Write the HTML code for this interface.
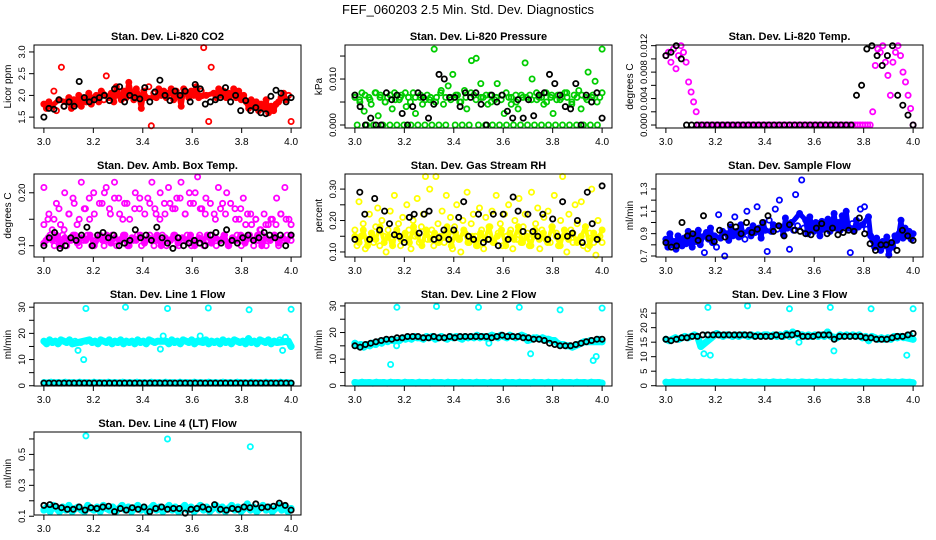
<!DOCTYPE html>
<html><head><meta charset="utf-8">
<style>
html,body{margin:0;padding:0;background:#fff;}
svg{display:block;font-family:"Liberation Sans",sans-serif;}
</style></head>
<body>
<svg id="chart" width="936" height="540" viewBox="0 0 936 540">
<rect x="0" y="0" width="936" height="540" fill="#fff"/>
<text x="468" y="14" text-anchor="middle" font-size="13">FEF_060203  2.5 Min. Std. Dev. Diagnostics</text>
</svg>
<script>
// ---- data ----
const xTicks = [3.0, 3.2, 3.4, 3.6, 3.8, 4.0];
const xTickLabels = ["3.0", "3.2", "3.4", "3.6", "3.8", "4.0"];

const co2Red = [1.80,1.70,1.85,1.75,2.10,1.65,1.90,2.65,1.75,1.85,1.95,1.70,1.90,1.80,2.00,1.75,1.95,1.85,2.05,1.80,1.95,2.00,1.85,2.10,1.90,2.45,1.95,2.05,1.85,2.20,2.00,1.90,2.10,1.95,2.30,2.05,1.90,2.15,2.00,1.70,2.10,1.95,2.20,1.30,2.05,1.95,2.15,2.00,2.10,1.95,2.05,2.15,1.90,2.10,2.00,1.75,2.15,2.05,1.95,2.10,2.00,2.20,1.95,2.10,3.10,2.00,1.40,2.65,2.05,1.95,2.15,2.00,2.10,1.95,2.05,2.00,2.15,1.95,2.10,1.90,2.00,1.85,1.70,1.90,1.75,1.85,1.65,1.80,1.70,1.90,1.60,1.75,1.65,1.80,1.85,1.95,2.05,1.90,2.00,1.40];
const co2Black = [1.50,1.70,1.68,1.90,1.75,1.85,1.75,2.32,1.95,1.85,1.90,1.95,2.00,1.88,2.15,2.20,1.85,2.00,1.95,1.92,2.18,1.85,2.08,2.35,2.00,1.88,2.10,2.00,2.10,1.85,2.25,2.15,1.80,1.85,1.90,1.95,2.18,1.85,2.00,1.65,1.88,1.65,1.72,1.60,1.58,1.98,2.12,2.05,1.85,1.95];

const presGreen = [0.0065,0.0,0.0055,0.007,0.003,0.0,0.006,0.0045,0.0,0.007,0.002,0.0065,0.0,0.005,0.006,0.0,0.0035,0.007,0.0,0.0055,0.0065,0.0,0.004,0.006,0.0,0.007,0.0025,0.0,0.006,0.0045,0.0,0.0065,0.0055,0.0,0.0165,0.006,0.0,0.0075,0.0045,0.0,0.0085,0.006,0.011,0.0,0.0065,0.005,0.0,0.0075,0.0035,0.0,0.014,0.0065,0.0145,0.0,0.009,0.006,0.0,0.0045,0.0065,0.0,0.0055,0.009,0.0,0.0065,0.0025,0.0,0.006,0.0045,0.0,0.0065,0.0035,0.0,0.006,0.0135,0.0,0.0065,0.010,0.0,0.0055,0.006,0.0,0.0045,0.007,0.0,0.006,0.0025,0.0,0.0065,0.0055,0.0,0.007,0.006,0.0,0.0045,0.0065,0.0,0.0075,0.0035,0.0,0.006,0.0115,0.0,0.0065,0.0095,0.0,0.006,0.0165];
const presGreenBand = [0.006,0.005,0.0065,0.0055,0.007,0.006,0.005,0.0065,0.0055,0.006,0.007,0.005,0.006,0.0065,0.0055,0.006,0.005,0.007,0.006,0.0055,0.0065,0.005,0.006,0.007,0.0055,0.006,0.0065,0.005,0.006,0.0055,0.007,0.006,0.005,0.0065,0.006,0.0055,0.007,0.006,0.005,0.0065,0.0055,0.006,0.007,0.005,0.006,0.0065,0.0055,0.006,0.005,0.007];
const presBlack = [0.0065,0.004,0.0,0.0015,0.0,0.0,0.007,0.0055,0.0065,0.0025,0.0,0.004,0.007,0.006,0.0015,0.0045,0.011,0.010,0.006,0.006,0.004,0.007,0.006,0.007,0.0045,0.0,0.0065,0.005,0.0065,0.003,0.0015,0.0055,0.0015,0.0055,0.002,0.0065,0.007,0.011,0.009,0.0065,0.004,0.0035,0.009,0.0,0.0065,0.005,0.007,0.0015];

const tempMagenta = [0.0105,0.011,0.0095,0.0115,0.0085,0.0105,0.012,0.011,0.0095,0.0065,0.005,0.0035,0.002,0,0,0,0,0,0,0,0,0,0,0,0,0,0,0,0,0,0,0,0,0,0,0,0,0,0,0,0,0,0,0,0,0,0,0,0,0,0,0,0,0,0,0,0,0,0,0,0,0,0,0,0,0,0,0,0,0,0,0,0,0,0,0,0,0,0,0,0,0,0.002,0.009,0.0115,0.011,0.012,0.0095,0.0075,0.0045,0.0095,0.011,0.012,0.0105,0.008,0.0065,0.0045,0.0025,0.0];
const tempBlack = [0.0105,0.011,0.012,0.010,0,0,0,0,0,0,0,0,0,0,0,0,0,0,0,0,0,0,0,0,0,0,0,0,0,0,0,0,0,0,0,0,0,0.0045,0.006,0.0115,0.012,0.0105,0.009,0.0105,0.012,0.0045,0.003,0.0015,0.0];

const ambMagenta = [0.21,0.11,0.15,0.12,0.13,0.10,0.18,0.11,0.14,0.12,0.20,0.10,0.16,0.11,0.19,0.12,0.14,0.10,0.22,0.11,0.17,0.12,0.15,0.10,0.20,0.11,0.24,0.12,0.18,0.10,0.21,0.11,0.16,0.12,0.22,0.10,0.19,0.11,0.15,0.12,0.18,0.10,0.24,0.11,0.20,0.12,0.17,0.10,0.25,0.11,0.19,0.12,0.22,0.10,0.16,0.11,0.20,0.12,0.18,0.10,0.21,0.11,0.17,0.12,0.19,0.10,0.22,0.11,0.16,0.12,0.20,0.10,0.18,0.11,0.23,0.12,0.17,0.10,0.19,0.11,0.24,0.12,0.16,0.10,0.21,0.11,0.18,0.12,0.20,0.10,0.25,0.11,0.17,0.12,0.15,0.10,0.19,0.11,0.16,0.12,0.14,0.10,0.15,0.11,0.13,0.12,0.16,0.10,0.14,0.11,0.15,0.12,0.19,0.10,0.16,0.11,0.21,0.12,0.15,0.11];
const ambMagentaMid = [0.14,0.16,0.15,0.17,0.13,0.16,0.18,0.15,0.17,0.19,0.16,0.18,0.20,0.17,0.19,0.16,0.18,0.15,0.17,0.19,0.16,0.18,0.17,0.15,0.16,0.18,0.17,0.19,0.16,0.18,0.20,0.17,0.16,0.18,0.15,0.17,0.16,0.18,0.15,0.17,0.14,0.16,0.15,0.13,0.14,0.15,0.14,0.16,0.15,0.14];
const ambMagentaLow = [0.105,0.115,0.11,0.12,0.10,0.115,0.11,0.12,0.105,0.115,0.11,0.12,0.10,0.115,0.11,0.12,0.105,0.115,0.11,0.12,0.10,0.115,0.11,0.12,0.105,0.115,0.11,0.12,0.10,0.115,0.11,0.12,0.105,0.115,0.11,0.12,0.10,0.115,0.11,0.12,0.105,0.115,0.11,0.12,0.10,0.115,0.11,0.12,0.105,0.115,0.11,0.12,0.10,0.115,0.11,0.12,0.105,0.115,0.11,0.12];
const ambBlack = [0.10,0.115,0.125,0.095,0.10,0.115,0.11,0.12,0.135,0.10,0.12,0.125,0.115,0.12,0.10,0.105,0.11,0.13,0.115,0.12,0.11,0.135,0.115,0.105,0.095,0.115,0.10,0.105,0.11,0.105,0.10,0.12,0.125,0.105,0.13,0.11,0.105,0.115,0.12,0.11,0.115,0.125,0.12,0.115,0.12,0.10,0.12];

const rhYellow = [0.17,0.12,0.26,0.15,0.19,0.11,0.14,0.22,0.16,0.13,0.18,0.24,0.12,0.20,0.15,0.10,0.17,0.23,0.13,0.28,0.16,0.19,0.12,0.21,0.14,0.25,0.17,0.11,0.20,0.15,0.27,0.13,0.18,0.22,0.34,0.14,0.30,0.17,0.12,0.34,0.19,0.15,0.23,0.13,0.28,0.16,0.21,0.11,0.18,0.25,0.14,0.10,0.20,0.16,0.29,0.13,0.19,0.22,0.15,0.12,0.24,0.17,0.11,0.21,0.14,0.18,0.23,0.13,0.28,0.16,0.19,0.12,0.22,0.15,0.25,0.17,0.11,0.20,0.14,0.27,0.13,0.18,0.22,0.16,0.12,0.29,0.15,0.19,0.24,0.11,0.17,0.21,0.14,0.23,0.13,0.18,0.28,0.16,0.12,0.20,0.34,0.15,0.10,0.22,0.17,0.13,0.25,0.19,0.14,0.26,0.12,0.18,0.11,0.16,0.30,0.13,0.09,0.20,0.15,0.13];
const rhYellowCore = [0.15,0.13,0.17,0.12,0.16,0.14,0.18,0.13,0.15,0.12,0.17,0.14,0.16,0.13,0.18,0.15,0.12,0.17,0.14,0.16,0.13,0.15,0.18,0.12,0.16,0.14,0.17,0.13,0.15,0.12,0.16,0.14,0.18,0.13,0.15,0.17,0.12,0.16,0.14,0.18,0.13,0.15,0.12,0.17,0.14,0.16,0.13,0.18,0.15,0.12,0.17,0.14,0.16,0.13,0.15,0.18,0.12,0.16,0.14,0.17];
const rhBlack = [0.14,0.29,0.22,0.14,0.27,0.17,0.23,0.19,0.155,0.15,0.13,0.21,0.22,0.16,0.22,0.23,0.14,0.145,0.17,0.14,0.17,0.21,0.26,0.15,0.14,0.22,0.13,0.14,0.22,0.12,0.22,0.14,0.275,0.23,0.165,0.22,0.165,0.15,0.22,0.14,0.205,0.15,0.26,0.15,0.16,0.20,0.13,0.29,0.19,0.14,0.31];

const flowBlue = [0.85,0.78,0.90,0.80,0.83,0.76,0.88,0.82,0.79,0.86,0.81,0.92,0.84,0.78,0.89,0.83,0.93,0.80,0.87,0.73,0.91,0.85,0.95,0.82,0.88,0.78,1.07,0.86,0.92,0.70,0.90,0.84,0.96,0.88,1.05,0.92,0.87,0.98,0.90,0.85,1.10,0.93,0.88,0.97,0.91,1.14,0.95,0.86,1.00,0.93,0.74,1.02,0.92,0.98,1.12,0.94,1.20,0.96,0.89,1.04,0.95,0.76,1.00,0.93,1.25,0.97,1.08,1.38,0.95,1.02,0.90,1.05,0.97,0.92,1.00,0.95,0.88,1.01,0.94,0.98,1.03,0.92,0.97,1.08,0.95,1.00,0.93,1.06,0.97,1.10,0.95,0.73,0.99,0.93,1.02,0.96,1.12,0.98,1.14,0.94,1.05,0.88,0.84,0.78,0.86,0.80,0.75,0.83,0.79,0.87,0.71,0.82,0.78,0.88,0.84,0.90,1.02,0.86,0.95,0.88,0.92,0.85,0.90];
const flowBlack = [0.82,0.78,0.79,1.00,0.88,0.90,0.84,1.06,0.86,0.83,0.93,0.87,0.98,0.96,0.90,1.00,0.91,0.94,1.00,1.06,0.92,0.97,0.88,0.98,0.93,0.92,0.90,0.89,0.95,0.99,0.90,0.95,0.89,0.91,0.93,0.92,1.04,0.90,0.81,0.75,0.80,0.80,0.82,0.75,0.93,0.88,0.84];

const outlierTimes = [3.17, 3.33, 3.50, 3.665, 3.83, 4.0];

const line1High = [17,16,17.5,16.5,17,16,17.5,17,16.5,17.5,16,17,13.5,16.5,10,17,17.5,16.5,17,16,17.5,17,16.5,17.5,16,17,16.5,17.5,16,17,16.5,17,16,17.5,16.5,17,16,17.5,17,16.5,17,14,19,17,16,17.5,16.5,17,16,17.5,17,16.5,17.5,16,17,19,16.5,17.5,16,17,16.5,17,16,17.5,16.5,17,16,17.5,17,16.5,17,16,18,16.5,17,16,17.5,17,16.5,17.5,16,17,16.5,17.5,13.5,18.5,17,15];
const line1Low = [1.2,1.0,1.3,1.1,1.2,1.0,1.3,1.1,1.2,1.0,1.3,1.1,1.2,1.0,1.3,1.1,1.2,1.0,1.3,1.1,1.2,1.0,1.3,1.1,1.2,1.0,1.3,1.1,1.2,1.0,1.3,1.1,1.2,1.0,1.3,1.1,1.2,1.0,1.3,1.1,1.2,1.0,1.3,1.1,1.2,1.0,1.3,1.1,1.2,1.0,1.3,1.1,1.2,1.0,1.3,1.1,1.2,1.0,1.3,1.1,1.2,1.0,1.3,1.1,1.2,1.0,1.3,1.1,1.2,1.0];
const line1Out = [29.5, 30, 29.5, 29.7, 29, 29.2];
const line1Black = [1,1,1,1,1,1,1,1,1,1,1,1,1,1,1,1,1,1,1,1,1,1,1,1,1,1,1,1,1,1,1,1,1,1,1,1,1,1,1,1,1,1,1,1,1,1,1,1,1,1];

const line2High = [16,15,15.5,14.5,15.5,15,16,15.5,16.5,16,17,16.5,8,17.5,15,17,18,17.5,18,17.5,18.5,18,18,17.5,18.5,18,18.5,17.5,18,18.5,18,17.5,18.5,18,18.5,18,17.5,18.5,18,18.5,18,19,18,18.5,18,16,19,18.5,18,19,18.5,18,19,18.5,18,18.5,19,18.5,17,12,18,18,17.5,18,17.5,17.5,17,17,16,15.5,15.5,15,15,14.5,15,15.5,16,16.5,16.5,17,9.5,11,17.5,16.5];
const line2Low = line1Low.slice();
const line2Out = [29.5, 29.8, 29.5, 29.5, 28.5, 29.2];
const line2Black = [15,14.5,15.5,16,16.5,17,17.5,17.5,18,18,18.5,18.5,18.5,18,18,18.5,18,18,18.5,18,18.5,18.5,18.5,18.5,18.5,18.5,18,18.5,19,18.5,18.5,18.5,18,18,17.5,17.5,17,16,15.5,15,15,15,15.5,16,16.5,17,17.5,17.5];

const line3High = [16,15.5,16,16.5,16,16.5,17,16.5,17,17.5,17,13.5,11,17.5,10.5,17.5,18,17.5,17,17.5,17.5,17,17.5,17,17.5,17.5,17,17.5,17,17.5,17,17.5,17.5,17,17.5,17,17.5,17,18,17,18.5,17.5,15,17.5,17,17.5,17,17.5,17,17.5,17,18.5,17,12,16.5,17.5,17,17.5,17,17.5,17,17.5,16.5,17,15.5,17,16.5,16,16.5,16,16.5,16,17,16.5,17,16.5,10.5,17.5,16];
const line3Low = line1Low.slice();
const line3Out = [27, 27.5, 26.5, 27, 26.5, 26.5];
const line3Black = [16,15.5,16,16.5,16.5,17,17,17.5,17.5,17.5,17.5,17.5,17.5,17.5,17.5,17.5,17.5,17,17,17,17,17.5,17,17.5,17.5,18,17,17,17,17.5,17.5,17.5,16,17,17,17,17,17,16.5,16.5,16,16,16,16.5,17,17,17.5,18];

const line4Cyan = [0.14,0.16,0.13,0.17,0.15,0.13,0.16,0.14,0.17,0.13,0.15,0.16,0.14,0.13,0.17,0.15,0.14,0.16,0.13,0.17,0.15,0.14,0.16,0.13,0.15,0.17,0.14,0.16,0.13,0.15,0.17,0.14,0.16,0.13,0.15,0.17,0.14,0.16,0.13,0.15,0.17,0.14,0.16,0.13,0.15,0.17,0.14,0.16,0.13,0.15,0.17,0.14,0.16,0.13,0.15,0.17,0.14,0.16,0.13,0.15,0.17,0.14,0.16,0.13,0.15,0.18,0.14,0.16,0.13,0.15,0.17,0.14,0.16,0.13,0.15,0.17,0.14,0.16,0.13,0.15];
const line4OutTimes = [3.17, 3.50, 3.835];
const line4Out = [0.62, 0.60, 0.55];
const line4Black = [0.17,0.175,0.165,0.155,0.145,0.145,0.16,0.14,0.155,0.15,0.16,0.165,0.13,0.15,0.14,0.155,0.145,0.16,0.13,0.15,0.16,0.145,0.15,0.15,0.12,0.145,0.15,0.16,0.145,0.175,0.145,0.14,0.15,0.145,0.16,0.155,0.18,0.155,0.16,0.165,0.185,0.17,0.14];

// ---- layout ----
const colLeft = [34, 345, 656];
const rowTop = [45, 174, 303, 432];
const boxW = 267, boxH = 83;
const XMIN = 2.96, XMAX = 4.04;

const panels = [
 {name:"co2", title:"Stan. Dev. Li-820 CO2", ylab:"Licor ppm", c:0, r:0, ylim:[1.25,3.16], ticks:[1.5,2.0,2.5,3.0], labels:["1.5","2.0","2.5","3.0"],
  series:[{y:co2Red,col:"#ff0000",band:5,thr:0.35},{y:co2Black,col:"#000"}]},
 {name:"pressure", title:"Stan. Dev. Li-820 Pressure", ylab:"kPa", c:1, r:0, ylim:[-0.00065,0.0174], ticks:[0,0.005,0.010,0.015], labels:["0.000","","0.010",""],
  series:[{y:presGreenBand,col:"#00cd00"},{y:presGreen,col:"#00cd00"},{y:presBlack,col:"#000"}]},
 {name:"temp", title:"Stan. Dev. Li-820 Temp.", ylab:"degrees C", c:2, r:0, ylim:[-0.00045,0.0121], ticks:[0,0.002,0.004,0.006,0.008,0.010,0.012], labels:["0.000","","0.004","","0.008","","0.012"],
  series:[{y:tempMagenta,col:"#ff00ff"},{y:tempBlack,col:"#000"}]},
 {name:"amb-box", title:"Stan. Dev. Amb. Box Temp.", ylab:"degrees C", c:0, r:1, ylim:[0.0787,0.2355], ticks:[0.10,0.15,0.20], labels:["0.10","","0.20"],
  series:[{y:ambMagentaLow,col:"#ff00ff",band:5,thr:0.05},{y:ambMagentaMid,col:"#ff00ff"},{y:ambMagenta,col:"#ff00ff"},{y:ambBlack,col:"#000"}]},
 {name:"gas-rh", title:"Stan. Dev. Gas Stream RH", ylab:"percent", c:1, r:1, ylim:[0.084,0.348], ticks:[0.10,0.15,0.20,0.25,0.30], labels:["0.10","","0.20","","0.30"],
  series:[{y:rhYellowCore,col:"#ffff00",band:4,thr:0.1},{y:rhYellow,col:"#ffff00"},{y:rhBlack,col:"#000"}]},
 {name:"sample-flow", title:"Stan. Dev. Sample Flow", ylab:"ml/min", c:2, r:1, ylim:[0.691,1.434], ticks:[0.7,0.8,0.9,1.0,1.1,1.2,1.3], labels:["0.7","","0.9","","1.1","","1.3"],
  series:[{y:flowBlue,col:"#0000ff",band:5,thr:0.15},{y:flowBlack,col:"#000"}]},
 {name:"line1", title:"Stan. Dev. Line 1 Flow", ylab:"ml/min", c:0, r:2, ylim:[-0.1,31.6], ticks:[0,5,10,15,20,25,30], labels:["0","","10","","20","","30"],
  series:[{y:line1Low,col:"#00ffff",band:7,thr:2},{y:line1High,col:"#00ffff",band:7,thr:2.2},{x:outlierTimes,y:line1Out,col:"#00ffff"},{y:line1Black,col:"#000"}]},
 {name:"line2", title:"Stan. Dev. Line 2 Flow", ylab:"ml/min", c:1, r:2, ylim:[-0.1,31.1], ticks:[0,5,10,15,20,25,30], labels:["0","","10","","20","","30"],
  series:[{y:line2Low,col:"#00ffff",band:7,thr:2},{y:line2High,col:"#00ffff",band:7,thr:2.2},{x:outlierTimes,y:line2Out,col:"#00ffff"},{y:line2Black,col:"#000"}]},
 {name:"line3", title:"Stan. Dev. Line 3 Flow", ylab:"ml/min", c:2, r:2, ylim:[-0.1,28.5], ticks:[0,5,10,15,20,25], labels:["0","5","10","15","20","25"],
  series:[{y:line3Low,col:"#00ffff",band:7,thr:2},{y:line3High,col:"#00ffff",band:7,thr:2.2},{x:outlierTimes,y:line3Out,col:"#00ffff"},{y:line3Black,col:"#000"}]},
 {name:"line4", title:"Stan. Dev. Line 4 (LT) Flow", ylab:"ml/min", c:0, r:3, ylim:[0.108,0.645], ticks:[0.1,0.2,0.3,0.4,0.5,0.6], labels:["0.1","","0.3","","0.5",""],
  series:[{y:line4Cyan,col:"#00ffff",band:7,thr:0.08},{x:line4OutTimes,y:line4Out,col:"#00ffff"},{y:line4Black,col:"#000"}]}
];

const NS = "http://www.w3.org/2000/svg";
const svg = document.getElementById("chart");
function mk(tag, attrs, parent){
  const e = document.createElementNS(NS, tag);
  for (const k in attrs) e.setAttribute(k, attrs[k]);
  parent.appendChild(e);
  return e;
}

panels.forEach(p => {
  const L = colLeft[p.c], T = rowTop[p.r], R = L + boxW, B = T + boxH;
  const xs = v => L + (v - XMIN) / (XMAX - XMIN) * boxW;
  const ys = v => B - (v - p.ylim[0]) / (p.ylim[1] - p.ylim[0]) * boxH;
  const g = mk("g", {}, svg);
  
  

  const t = mk("text", {x:(L+R)/2, y:T-5, "text-anchor":"middle", "font-size":"11", "font-weight":"bold"}, g);
  t.textContent = p.title;
  
  

  const pts = mk("g", {fill:"none", "stroke-width":"1.8"}, g);
  
  
  p.series.forEach(s => {
    const n = s.y.length;
    const xOf = i => s.x ? s.x[i] : 3 + i / (n - 1);
    if (s.band) {
      let d = "";
      s.y.forEach((v, i) => {
        const prev = s.y[Math.max(0, i - 1)], next = s.y[Math.min(n - 1, i + 1)];
        const nb = (i === 0) ? next : (i === n - 1) ? prev : (prev + next) / 2;
        if (Math.abs(v - nb) > s.thr) return;
        d += (d ? "L" : "M") + xs(xOf(i)).toFixed(1) + "," + ys(v).toFixed(1);
      });
      const bp = mk("path", {d:d, fill:"none", stroke:s.col, "stroke-width":s.band, "stroke-linejoin":"round", "stroke-linecap":"round"}, pts);
      
      
    }
    s.y.forEach((v, i) => {
      const cy = ys(v);
      if (cy < T - 2 || cy > B + 2) return;
      const c = mk("circle", {cx:xs(xOf(i)).toFixed(1), cy:cy.toFixed(1), r:"2.6", stroke:s.col}, pts);
      
      
    });
  });

  const box = mk("rect", {x:L, y:T, width:boxW, height:boxH, fill:"none", stroke:"#000", "stroke-width":"1"}, g);
  
  

  const xa = mk("g", {}, g);
  
  
  xTicks.forEach((v, i) => {
    const x = xs(v);
    mk("line", {x1:x, x2:x, y1:B, y2:B+5, stroke:"#000"}, xa);
    const tl = mk("text", {x:x, y:B+17, "text-anchor":"middle", "font-size":"10"}, xa);
    tl.textContent = xTickLabels[i];
    
    
  });

  const ya = mk("g", {}, g);
  
  
  p.ticks.forEach((v, i) => {
    const y = ys(v);
    mk("line", {x1:L-5, x2:L, y1:y, y2:y, stroke:"#000"}, ya);
    if (p.labels[i]) {
      const tl = mk("text", {x:0, y:0, "text-anchor":"middle", "font-size":"9.5", transform:"translate(" + (L-9) + "," + y + ") rotate(-90)"}, ya);
      tl.textContent = p.labels[i];
      
      
    }
  });
  const yt = mk("text", {x:0, y:0, "text-anchor":"middle", "font-size":"10", transform:"translate(" + (L-23) + "," + ((T+B)/2) + ") rotate(-90)"}, ya);
  yt.textContent = p.ylab;
  
  
});
</script>
</body></html>
